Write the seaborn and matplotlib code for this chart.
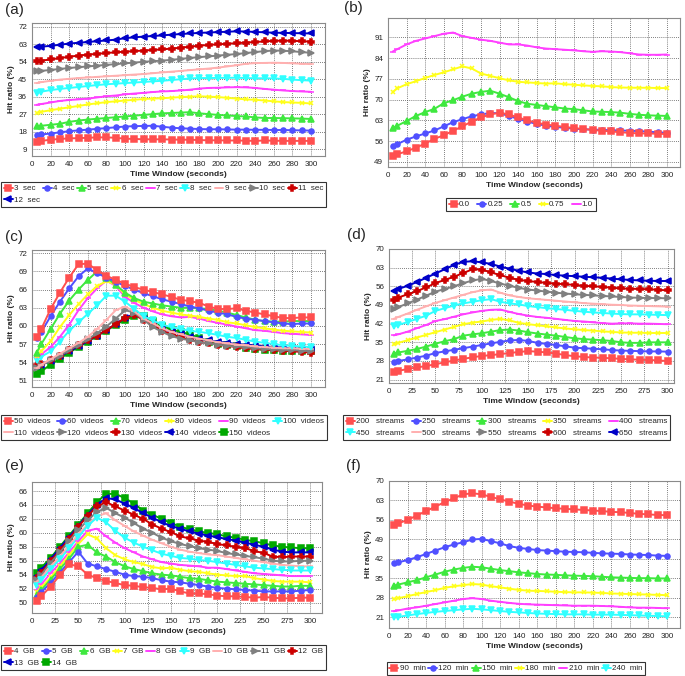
import matplotlib
matplotlib.use("Agg")
import matplotlib.pyplot as plt
import seaborn as sns

# shared x positions (seconds)
time_window = [5, 10, 20, 30, 40, 50, 60, 70, 80, 90, 100, 110, 120, 130, 140, 150,
               160, 170, 180, 190, 200, 210, 220, 230, 240, 250, 260, 270, 280, 290, 300]

# (a) segment length
a_labels = ["3  sec", "4  sec", "5  sec", "6  sec", "7  sec", "8  sec", "9  sec", "10  sec", "11  sec", "12  sec"]
a_3s = [12.8, 13.2, 13.8, 14.2, 14.5, 14.6, 14.8, 15.0, 15.0, 14.8, 14.3, 14.2, 14.0, 14.0, 14.0, 13.9,
        13.8, 13.8, 13.6, 13.5, 13.5, 13.4, 13.4, 13.3, 13.2, 13.4, 13.3, 13.2, 13.2, 13.2, 13.2]
a_4s = [16.2, 16.5, 17.0, 17.6, 18.2, 18.6, 19.0, 19.4, 19.8, 20.2, 20.6, 20.8, 20.9, 21.0, 20.5, 20.0,
        19.7, 19.5, 19.3, 19.2, 19.2, 19.1, 19.0, 19.0, 18.9, 18.9, 18.8, 18.8, 18.7, 18.6, 18.5]
a_5s = [20.7, 21.0, 21.5, 22.0, 23.0, 23.7, 24.2, 24.6, 25.0, 25.4, 25.8, 26.2, 26.6, 27.0, 27.4, 27.6,
        27.8, 28.0, 27.4, 27.0, 26.6, 26.3, 26.0, 25.8, 25.3, 25.0, 25.0, 24.9, 24.8, 24.7, 24.5]
a_6s = [27.6, 28.2, 29.0, 29.8, 30.5, 31.2, 32.0, 32.6, 33.2, 33.6, 34.0, 34.4, 34.8, 35.0, 35.2, 35.5,
        35.8, 36.0, 36.2, 36.0, 35.8, 35.4, 35.0, 34.6, 34.4, 34.0, 33.6, 33.2, 33.0, 32.8, 32.5]
a_7s = [31.8, 32.2, 33.0, 33.8, 34.3, 34.6, 35.0, 35.6, 36.2, 36.6, 37.2, 37.6, 38.0, 38.4, 38.7, 38.9,
        39.2, 39.6, 40.2, 40.5, 40.6, 40.8, 40.9, 40.8, 40.5, 40.0, 39.6, 39.2, 38.9, 38.7, 38.5]
a_8s = [37.8, 38.6, 39.4, 40.0, 40.5, 41.0, 41.5, 42.0, 42.4, 42.7, 43.0, 43.3, 43.6, 43.9, 44.2, 44.6,
        45.0, 45.4, 45.6, 45.6, 45.7, 45.7, 45.8, 45.6, 45.5, 45.5, 45.4, 45.2, 44.8, 44.5, 44.3]
a_9s = [43.0, 43.5, 44.2, 44.8, 45.2, 45.6, 45.9, 46.2, 46.5, 46.8, 47.1, 47.4, 47.7, 48.1, 48.5, 48.9,
        49.3, 49.7, 50.1, 50.5, 51.0, 51.6, 52.2, 53.0, 53.3, 53.4, 53.5, 53.4, 53.2, 53.0, 52.8]
a_10s = [49.0, 49.3, 49.8, 50.3, 50.8, 51.2, 51.6, 52.0, 52.4, 52.8, 53.2, 53.6, 54.0, 54.3, 54.6, 55.0,
         55.5, 56.0, 56.4, 56.8, 57.2, 57.6, 58.0, 58.5, 59.0, 59.5, 59.8, 59.7, 59.4, 59.0, 58.6]
a_11s = [54.3, 54.6, 55.2, 55.9, 56.6, 57.2, 57.7, 58.1, 58.5, 58.9, 59.2, 59.5, 59.8, 60.1, 60.4, 60.8,
         61.3, 61.8, 62.3, 62.7, 63.0, 63.3, 63.6, 63.9, 64.2, 64.5, 64.8, 64.9, 64.8, 64.6, 64.4]
a_12s = [61.5, 61.8, 62.2, 62.8, 63.4, 63.8, 64.2, 64.6, 65.0, 65.4, 66.2, 66.6, 67.0, 67.3, 67.6, 68.0,
         68.3, 68.6, 68.9, 69.1, 69.3, 69.5, 69.7, 69.6, 69.4, 69.2, 69.0, 68.9, 68.8, 68.7, 68.6]

# (b) popularity skew
b_labels = ["0.0", "0.25", "0.5", "0.75", "1.0"]
b_00 = [51.0, 51.6, 52.6, 53.8, 55.2, 56.8, 58.0, 59.5, 61.0, 62.6, 64.0, 65.0, 65.6, 65.0, 64.0, 63.0,
        62.2, 61.6, 61.2, 60.8, 60.4, 60.1, 59.8, 59.5, 59.3, 59.0, 58.8, 58.6, 58.6, 58.5, 58.4]
b_025 = [54.5, 55.0, 56.5, 57.6, 58.6, 59.6, 61.0, 62.4, 63.4, 64.4, 65.0, 65.5, 65.4, 64.5, 63.5, 62.6,
         61.8, 61.2, 60.8, 60.5, 60.2, 60.0, 59.9, 59.8, 59.7, 59.6, 59.5, 59.4, 59.2, 59.0, 58.8]
b_05 = [60.4, 61.2, 62.8, 64.5, 65.8, 66.9, 68.8, 69.8, 71.0, 72.0, 72.6, 73.0, 72.0, 70.8, 69.5, 68.6,
        68.2, 67.8, 67.4, 67.0, 66.8, 66.4, 66.0, 65.9, 65.8, 65.6, 65.2, 64.9, 64.7, 64.6, 64.5]
b_075 = [72.5, 73.8, 75.2, 76.2, 77.3, 78.3, 79.2, 80.2, 81.2, 80.5, 78.8, 78.0, 77.2, 76.5, 76.0, 75.8,
         75.6, 75.4, 75.5, 75.2, 75.0, 74.8, 74.6, 74.5, 74.2, 74.1, 74.0, 74.0, 74.0, 73.9, 73.9]
b_10 = [86.2, 87.0, 88.6, 89.8, 90.6, 91.4, 92.2, 92.6, 91.4, 90.8, 90.2, 89.8, 89.2, 88.6, 88.6, 88.2,
        87.6, 87.2, 87.0, 86.8, 86.6, 86.3, 86.1, 86.3, 86.2, 86.0, 85.6, 85.2, 85.1, 85.1, 85.2]

# (c) number of videos
c_labels = ["50  videos", "60  videos", "70  videos", "80  videos", "90  videos", "100  videos",
            "110  videos", "120  videos", "130  videos", "140  videos", "150  videos"]
c_50 = [58.2, 59.5, 62.8, 65.5, 68.0, 70.2, 70.3, 69.2, 68.3, 67.6, 67.0, 66.4, 66.0, 65.6, 65.2, 64.8,
        64.3, 64.1, 63.8, 63.2, 62.8, 62.8, 62.9, 62.5, 62.2, 61.9, 61.6, 61.3, 61.3, 61.4, 61.4]
c_60 = [58.0, 59.0, 61.6, 64.0, 66.2, 68.2, 69.5, 68.7, 68.0, 67.3, 66.6, 66.0, 65.4, 64.9, 64.4, 64.0,
        63.6, 63.2, 62.9, 62.5, 62.2, 61.9, 61.5, 61.2, 61.0, 60.8, 60.6, 60.4, 60.3, 60.4, 60.4]
c_70 = [55.6, 57.0, 59.5, 62.0, 64.2, 66.0, 67.6, 69.0, 68.0, 66.8, 65.5, 64.6, 64.0, 63.7, 63.4, 63.2,
        63.0, 63.0, 62.9, 62.8, 62.5, 62.2, 61.8, 61.4, 61.0, 60.8, 60.7, 60.7, 60.8, 60.8, 60.8]
c_80 = [55.0, 55.8, 57.5, 59.8, 61.8, 63.6, 65.2, 66.6, 67.4, 66.8, 65.2, 64.3, 63.6, 63.0, 62.5, 62.2,
        61.9, 61.7, 61.5, 61.2, 61.0, 60.6, 60.4, 60.1, 59.8, 59.6, 59.4, 59.2, 59.1, 59.0, 58.9]
c_90 = [54.8, 55.3, 56.5, 58.2, 60.2, 62.6, 64.6, 66.2, 67.5, 66.6, 64.8, 63.8, 63.0, 62.4, 61.9, 61.6,
        61.4, 61.5, 61.2, 60.8, 60.5, 60.2, 59.9, 59.6, 59.3, 59.2, 59.0, 58.8, 58.7, 58.6, 58.5]
c_100 = [54.4, 54.9, 55.8, 57.4, 59.2, 60.6, 62.0, 63.4, 65.0, 65.0, 64.0, 62.8, 61.6, 60.9, 60.2, 59.8,
         59.5, 59.2, 59.0, 58.8, 58.5, 58.2, 58.0, 57.7, 57.4, 57.2, 57.0, 56.8, 56.7, 56.6, 56.5]
c_110 = [53.0, 53.6, 54.5, 55.4, 56.3, 57.2, 58.2, 59.5, 61.0, 62.6, 63.2, 62.4, 61.2, 60.4, 59.6, 59.0,
         58.6, 58.2, 57.9, 57.6, 57.3, 57.1, 56.9, 56.8, 56.6, 56.5, 56.4, 56.3, 56.3, 56.2, 56.2]
c_120 = [53.1, 53.5, 54.3, 55.1, 56.0, 56.9, 57.8, 58.8, 59.9, 61.2, 62.6, 62.2, 61.0, 59.8, 59.0, 58.3,
         57.9, 57.6, 57.3, 57.1, 56.9, 56.7, 56.6, 56.5, 56.3, 56.2, 56.1, 56.0, 56.0, 55.9, 55.8]
c_130 = [53.5, 53.7, 54.3, 55.1, 56.0, 56.8, 57.6, 58.4, 59.3, 60.3, 61.3, 61.8, 61.0, 60.2, 59.2, 58.6,
         58.1, 57.7, 57.4, 57.1, 56.9, 56.7, 56.5, 56.3, 56.2, 56.1, 56.0, 55.9, 55.8, 55.7, 55.6]
c_140 = [53.3, 53.6, 54.2, 55.0, 55.8, 56.6, 57.5, 58.4, 59.3, 60.3, 61.3, 62.0, 61.2, 60.3, 59.5, 59.0,
         58.6, 58.2, 57.9, 57.6, 57.4, 57.2, 57.0, 56.9, 56.8, 56.6, 56.5, 56.4, 56.3, 56.2, 56.1]
c_150 = [52.0, 52.5, 53.6, 54.6, 55.6, 56.5, 57.4, 58.4, 59.2, 60.2, 61.0, 61.6, 61.6, 60.8, 60.0, 59.4,
         59.0, 58.6, 58.0, 57.4, 57.0, 56.8, 56.6, 56.4, 56.2, 56.0, 56.0, 55.9, 55.9, 55.9, 55.8]

# (d) number of streams
d_labels = ["200   streams", "250   streams", "300   streams", "350   streams", "400   streams",
            "450   streams", "500   streams", "550   streams", "600   streams", "650   streams"]
d_200 = [24.0, 24.3, 25.0, 25.6, 26.1, 26.8, 27.5, 28.2, 28.8, 29.4, 29.9, 30.2, 30.6, 31.0, 31.4, 31.7,
         31.5, 31.2, 30.8, 30.2, 29.8, 29.5, 29.3, 29.2, 29.0, 28.8, 28.6, 28.5, 28.4, 28.2, 28.0]
d_250 = [27.6, 28.0, 28.6, 29.3, 30.0, 31.0, 31.6, 32.2, 32.8, 33.4, 34.0, 34.6, 35.2, 35.7, 35.9, 35.5,
         34.8, 34.4, 34.0, 33.5, 33.0, 32.8, 32.6, 32.4, 32.1, 31.9, 31.8, 31.7, 31.6, 31.6, 31.5]
d_300 = [30.8, 31.2, 31.8, 32.5, 33.4, 34.5, 35.4, 36.2, 37.5, 38.0, 38.4, 39.0, 39.6, 39.8, 39.4, 38.8,
         38.3, 37.9, 37.5, 37.0, 36.5, 36.2, 36.0, 35.8, 35.5, 35.0, 34.8, 34.8, 35.0, 35.0, 35.0]
d_350 = [34.2, 34.8, 35.8, 36.8, 37.8, 38.8, 39.8, 40.8, 41.8, 42.4, 42.8, 43.4, 43.8, 43.2, 42.3, 41.8,
         41.4, 41.0, 40.6, 40.2, 39.9, 39.6, 39.4, 39.1, 38.9, 38.7, 38.6, 38.6, 38.5, 38.5, 38.5]
d_400 = [37.6, 38.0, 39.0, 40.3, 41.5, 43.0, 43.7, 44.6, 45.5, 46.2, 46.8, 47.2, 47.3, 46.4, 45.6, 45.0,
         44.5, 44.2, 43.8, 43.4, 43.0, 42.8, 42.5, 42.2, 42.0, 42.1, 42.1, 42.0, 42.0, 41.9, 41.8]
d_450 = [41.0, 41.5, 42.6, 43.8, 45.0, 46.8, 47.8, 48.8, 49.6, 50.2, 50.8, 51.2, 50.2, 49.6, 49.2, 48.6,
         48.2, 47.8, 47.5, 47.2, 46.8, 46.5, 46.2, 46.0, 45.8, 45.6, 45.5, 45.5, 45.4, 45.3, 45.2]
d_500 = [43.8, 44.5, 45.8, 47.2, 48.5, 49.8, 50.8, 51.8, 52.8, 53.8, 54.5, 54.8, 53.6, 52.6, 52.0, 51.5,
         51.2, 50.9, 50.6, 50.3, 50.0, 49.7, 49.5, 49.3, 49.1, 49.0, 48.8, 48.7, 48.6, 48.5, 48.4]
d_550 = [47.5, 48.2, 49.6, 51.0, 52.5, 54.0, 55.0, 56.0, 57.2, 58.2, 58.8, 58.0, 57.0, 56.2, 55.4, 54.8,
         54.4, 54.0, 53.6, 53.3, 53.0, 52.8, 52.6, 52.4, 52.2, 52.0, 51.8, 51.7, 51.6, 51.6, 51.5]
d_600 = [51.0, 51.8, 53.0, 54.2, 55.6, 57.2, 58.4, 59.6, 61.0, 62.4, 62.3, 61.2, 60.2, 59.2, 58.4, 58.0,
         57.6, 57.3, 57.0, 56.8, 56.5, 56.2, 56.0, 55.8, 55.5, 55.2, 55.1, 55.0, 54.9, 54.7, 54.5]
d_650 = [54.2, 55.0, 56.2, 57.6, 59.2, 60.8, 62.4, 64.0, 65.2, 65.4, 65.0, 64.4, 63.4, 62.6, 61.8, 61.2,
         60.8, 60.6, 60.2, 60.0, 59.8, 59.6, 59.4, 59.2, 58.9, 58.6, 58.4, 58.2, 58.1, 58.0, 58.0]

# (e) cache size
e_labels = ["4  GB", "5  GB", "6  GB", "7  GB", "8  GB", "9  GB", "10  GB", "11  GB", "12  GB", "13  GB", "14  GB"]
e_4 = [50.2, 50.9, 52.3, 53.9, 55.5, 55.2, 54.0, 53.5, 53.1, 52.8, 52.5, 52.4, 52.2, 52.1, 51.9, 52.0,
       51.6, 51.3, 51.3, 51.2, 51.0, 50.9, 50.9, 50.8, 50.7, 50.8, 50.7, 50.6, 50.6, 50.7, 50.7]
e_5 = [50.8, 51.5, 52.8, 54.3, 55.8, 57.3, 55.6, 55.2, 54.8, 54.4, 54.0, 53.8, 53.7, 53.5, 53.2, 53.0,
       52.9, 52.7, 52.5, 52.3, 52.1, 52.0, 51.9, 51.8, 51.7, 51.6, 51.6, 51.6, 51.6, 51.7, 51.8]
e_6 = [51.1, 51.8, 53.3, 54.8, 56.3, 58.0, 58.3, 57.2, 56.6, 55.8, 55.2, 54.8, 54.5, 54.2, 54.0, 53.9,
       53.7, 53.5, 53.4, 53.2, 53.0, 52.9, 52.8, 52.7, 52.6, 52.5, 52.4, 52.3, 52.3, 52.4, 52.4]
e_7 = [51.5, 52.2, 53.6, 55.2, 56.8, 58.4, 59.8, 59.2, 57.8, 56.8, 56.2, 55.8, 55.5, 55.1, 54.9, 55.0,
       54.7, 54.5, 54.4, 54.2, 54.0, 53.9, 53.8, 53.8, 53.5, 53.3, 53.1, 53.0, 53.0, 53.0, 52.9]
e_8 = [51.8, 52.6, 54.2, 55.6, 57.2, 58.8, 60.3, 60.6, 59.5, 58.6, 57.8, 57.2, 56.6, 56.2, 55.8, 55.6,
       55.4, 55.3, 55.2, 55.0, 55.0, 54.8, 54.6, 54.4, 54.2, 54.1, 54.0, 53.9, 53.8, 53.8, 53.8]
e_9 = [52.4, 53.2, 54.8, 56.2, 57.8, 59.4, 61.0, 62.2, 61.5, 60.3, 59.3, 58.6, 58.0, 57.5, 57.0, 56.7,
       56.4, 56.3, 56.1, 56.0, 55.8, 55.6, 55.4, 55.2, 55.0, 54.9, 54.8, 54.7, 54.6, 54.6, 54.6]
e_10 = [53.0, 53.6, 55.2, 56.6, 58.2, 59.8, 61.2, 62.4, 62.8, 61.8, 61.0, 60.2, 59.6, 59.0, 58.5, 58.0,
        57.6, 57.3, 57.1, 56.9, 56.8, 56.6, 56.4, 56.2, 56.0, 55.8, 55.6, 55.4, 55.3, 55.2, 55.2]
e_11 = [53.2, 54.0, 55.7, 57.2, 58.8, 60.4, 61.8, 63.0, 63.6, 62.8, 62.2, 61.4, 60.6, 60.0, 59.3, 58.8,
        58.4, 58.1, 57.8, 57.6, 57.4, 57.1, 56.9, 56.7, 56.5, 56.3, 56.0, 55.9, 55.9, 56.0, 56.0]
e_12 = [53.5, 54.3, 55.9, 57.5, 59.1, 60.9, 62.4, 63.8, 64.4, 63.8, 63.2, 62.6, 62.0, 61.2, 60.6, 60.1,
        59.5, 59.2, 58.9, 58.7, 58.4, 58.2, 58.0, 57.8, 57.4, 57.1, 56.6, 56.5, 56.6, 56.6, 56.6]
e_13 = [53.8, 54.6, 56.2, 57.8, 59.4, 61.0, 62.6, 64.0, 65.0, 64.8, 64.2, 63.6, 62.8, 62.2, 61.5, 61.0,
        60.6, 60.2, 59.9, 59.6, 59.4, 59.1, 58.9, 58.6, 58.3, 58.0, 57.6, 57.3, 57.2, 57.2, 57.2]
e_14 = [54.2, 55.0, 56.4, 58.0, 59.6, 61.2, 62.8, 64.4, 65.6, 65.6, 65.0, 64.2, 63.2, 62.6, 62.0, 61.4,
        60.9, 60.5, 60.2, 60.0, 59.8, 59.5, 59.3, 59.0, 58.8, 58.5, 58.2, 58.0, 57.9, 57.8, 57.8]

# (f) video length
f_labels = ["90  min", "120  min", "150  min", "180  min", "210  min", "240  min"]
f_90 = [54.2, 54.8, 56.0, 57.6, 59.2, 60.8, 62.4, 63.8, 65.2, 65.6, 65.2, 64.3, 63.4, 62.6, 61.8, 61.2,
        60.8, 60.5, 60.2, 60.0, 59.8, 59.6, 59.4, 59.2, 58.9, 58.8, 58.5, 58.2, 58.0, 57.8, 57.7]
f_120 = [40.4, 40.8, 41.6, 42.6, 43.8, 45.0, 46.2, 47.2, 48.0, 49.0, 49.2, 48.4, 47.6, 46.6, 46.0, 45.6,
         45.2, 45.0, 44.8, 44.6, 44.5, 44.4, 44.2, 44.0, 43.9, 43.8, 43.6, 43.5, 43.4, 43.2, 43.1]
f_150 = [32.4, 32.8, 33.6, 34.4, 35.4, 36.4, 37.4, 38.2, 38.8, 39.2, 39.0, 38.5, 38.0, 37.6, 37.2, 36.9,
         36.6, 36.4, 36.3, 36.1, 36.0, 35.9, 35.8, 35.6, 35.4, 35.3, 35.2, 35.1, 35.1, 35.0, 35.0]
f_180 = [27.6, 27.9, 28.6, 29.4, 30.1, 30.8, 31.6, 32.2, 32.6, 33.0, 32.8, 32.2, 31.8, 31.3, 30.9, 30.6,
         30.5, 30.4, 30.2, 30.1, 30.0, 30.0, 29.9, 29.8, 29.6, 29.5, 29.4, 29.3, 29.2, 29.1, 29.0]
f_210 = [23.2, 23.5, 24.2, 24.6, 25.2, 25.8, 26.4, 27.0, 27.6, 27.9, 27.6, 27.0, 26.6, 26.2, 25.9, 25.7,
         25.6, 25.5, 25.4, 25.3, 25.2, 25.2, 25.2, 25.1, 25.0, 24.8, 24.6, 24.5, 24.5, 24.4, 24.3]
f_240 = [21.0, 21.2, 21.7, 22.2, 22.6, 23.0, 23.3, 23.6, 23.9, 24.1, 23.9, 23.6, 23.3, 23.0, 22.8, 22.6,
         22.4, 22.3, 22.2, 22.1, 22.1, 22.1, 22.0, 22.0, 22.0, 21.9, 21.8, 21.7, 21.6, 21.5, 21.4]

# Excel-like series styles: colour, marker, marker size
STYLES = [
    ("#ff4f4f", "s", 3.8),
    ("#5050ff", "o", 3.6),
    ("#3fe83f", "^", 4.0),
    ("#ffff1a", "x", 2.8),
    ("#ff40ff", "_", 4.2),
    ("#30ffff", "v", 4.0),
    ("#ffb0b0", "_", 4.2),
    ("#808080", ">", 3.8),
    ("#cc0000", "P", 3.8),
    ("#0000c8", "<", 3.8),
    ("#00a800", "s", 3.8),
]

W, H = 685, 676


def rect(left, top, right, bottom):
    return [left / W, 1 - bottom / H, (right - left) / W, (bottom - top) / H]


def draw_panel(fig, box, series, xlim, xticks, ylim, yticks, tag, tag_xy):
    ax = fig.add_axes(rect(*box))
    for i, vals in enumerate(series):
        color, marker, ms = STYLES[i]
        sns.lineplot(x=time_window, y=vals, ax=ax, color=color, marker=marker,
                     markersize=ms, markeredgecolor=color, markeredgewidth=1.1,
                     linewidth=1.4, errorbar=None, zorder=10 - 0.1 * i)
    ax.set_xlim(*xlim)
    ax.set_ylim(*ylim)
    ax.set_xticks(xticks)
    ax.set_yticks(yticks)
    ax.grid(True, linestyle=(0, (1, 1.5)), color="#555555", linewidth=0.6)
    ax.set_axisbelow(True)
    for s in ax.spines.values():
        s.set_color("#8a8a8a")
        s.set_linewidth(0.8)
    ax.tick_params(labelsize=5.8, length=2, width=0.6, pad=1.5, colors="#222222")
    ax.set_xlabel("Time Window (seconds)", fontsize=6, fontweight="bold", labelpad=2)
    ax.set_ylabel("Hit ratio (%)", fontsize=6, fontweight="bold", labelpad=2)
    fig.text(tag_xy[0] / W, 1 - tag_xy[1] / H, tag, fontsize=11, ha="center", va="center")
    return ax


def add_legend(fig, ax, labels, ncol, loc, anchor, colspace=0.35):
    lines = ax.get_lines()
    order = []
    for i in range(ncol):
        order.append(i)
        if i + ncol < len(labels):
            order.append(i + ncol)
    leg = fig.legend([lines[i] for i in order], [labels[i] for i in order], ncol=ncol,
                     loc=loc, bbox_to_anchor=(anchor[0] / W, 1 - anchor[1] / H),
                     frameon=True, fancybox=False, edgecolor="black", fontsize=5.8,
                     handlelength=1.1, handletextpad=0.15, columnspacing=colspace,
                     borderpad=0.35, labelspacing=0.45, borderaxespad=0)
    leg.get_frame().set_linewidth(0.8)


sns.set_style("white")
plt.rcParams["font.family"] = ["Liberation Sans", "DejaVu Sans"]

fig = plt.figure(figsize=(W / 100, H / 100), dpi=100)

x20 = [0, 20, 40, 60, 80, 100, 120, 140, 160, 180, 200, 220, 240, 260, 280, 300]
x25 = [0, 25, 50, 75, 100, 125, 150, 175, 200, 225, 250, 275, 300]

ax_a = draw_panel(fig, (32, 23, 325, 156),
                  [a_3s, a_4s, a_5s, a_6s, a_7s, a_8s, a_9s, a_10s, a_11s, a_12s],
                  (0, 315), x20, (5.4, 74), [9, 18, 27, 36, 45, 54, 63, 72], "(a)", (14, 10))
add_legend(fig, ax_a, a_labels, 9, "upper left", (1, 182))

ax_b = draw_panel(fig, (388, 18, 680, 167), [b_00, b_025, b_05, b_075, b_10],
                  (0, 314), x20, (47.3, 97.5), [49, 56, 63, 70, 77, 84, 91], "(b)", (353, 8))
add_legend(fig, ax_b, b_labels, 5, "upper center", (521, 198), colspace=0.9)

ax_c = draw_panel(fig, (32, 250, 325, 387),
                  [c_50, c_60, c_70, c_80, c_90, c_100, c_110, c_120, c_130, c_140, c_150],
                  (0, 315), x20, (49.9, 72.55), [51, 54, 57, 60, 63, 66, 69, 72], "(c)", (14, 237))
add_legend(fig, ax_c, c_labels, 6, "upper left", (1, 415))

ax_d = draw_panel(fig, (389, 249, 674, 383),
                  [d_200, d_250, d_300, d_350, d_400, d_450, d_500, d_550, d_600, d_650],
                  (0, 307), x25, (19.75, 70), [21, 28, 35, 42, 49, 56, 63, 70], "(d)", (356, 235))
add_legend(fig, ax_d, d_labels, 5, "upper left", (343, 415), colspace=0.9)

ax_e = draw_panel(fig, (32, 482, 322, 613),
                  [e_4, e_5, e_6, e_7, e_8, e_9, e_10, e_11, e_12, e_13, e_14],
                  (0, 313), x25, (48.5, 67.3), [50, 52, 54, 56, 58, 60, 62, 64, 66], "(e)", (14, 466))
add_legend(fig, ax_e, e_labels, 9, "upper left", (1, 645))

ax_f = draw_panel(fig, (389, 481, 680, 628), [f_90, f_120, f_150, f_180, f_210, f_240],
                  (0, 314), x20, (17.2, 70), [21, 28, 35, 42, 49, 56, 63, 70], "(f)", (353, 466))
add_legend(fig, ax_f, f_labels, 6, "upper center", (516, 662))

fig.savefig("out.png", dpi=100)
